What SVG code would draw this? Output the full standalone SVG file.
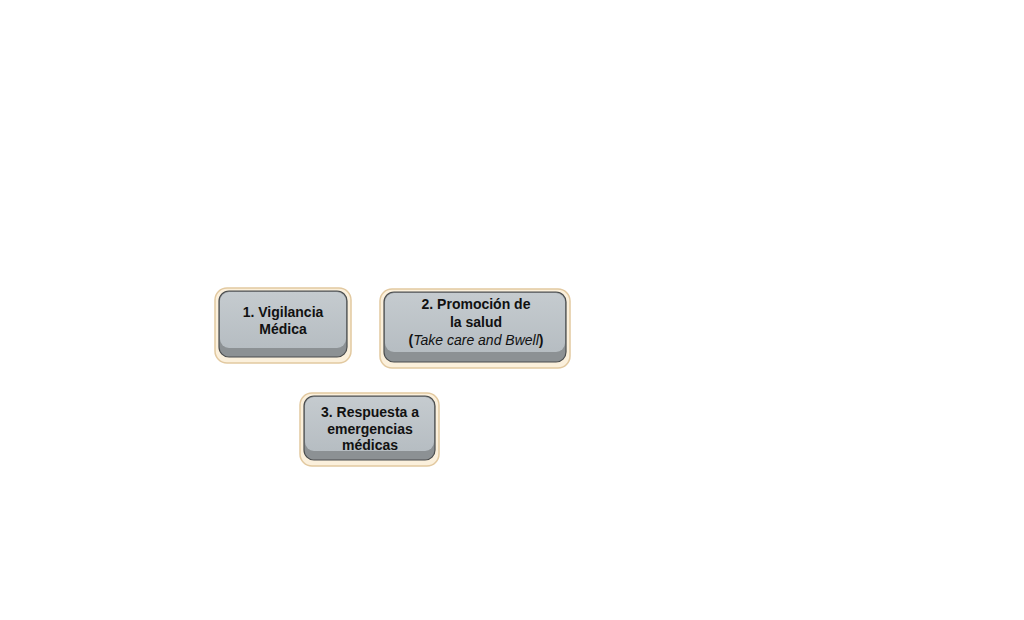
<svg xmlns="http://www.w3.org/2000/svg" width="1024" height="620" viewBox="0 0 1024 620">
<defs>
<linearGradient id="face" x1="0" y1="0" x2="0" y2="1">
<stop offset="0" stop-color="#c5cbcf"/>
<stop offset="1" stop-color="#b6bdc2"/>
</linearGradient>
<style>
.frame{fill:#fbf0dc;stroke:#e2c9a0;stroke-width:1.5}
.base{fill:#8c9194;stroke:#4a4d4f;stroke-width:1.2}
.face{fill:url(#face)}
.t{font-family:"Liberation Sans",Arial,sans-serif;font-weight:bold;font-size:14px;fill:#111;text-anchor:middle}
.i{font-style:italic;font-weight:normal}
</style>
</defs>
<rect width="1024" height="620" fill="#fff"/>
<g id="connectors"/>
<g id="node1">
<rect class="frame" x="215" y="288" width="136" height="75" rx="12"/>
<rect class="base" x="219" y="291" width="128" height="66" rx="10"/>
<rect class="face" x="220" y="292" width="126" height="56" rx="9"/>
<text class="t" x="283" y="317">1. Vigilancia</text>
<text class="t" x="283" y="334">Médica</text>
</g>
<g id="node2">
<rect class="frame" x="380" y="289" width="190" height="79" rx="12"/>
<rect class="base" x="384" y="292" width="182" height="70" rx="10"/>
<rect class="face" x="385" y="293" width="180" height="59" rx="9"/>
<text class="t" x="476" y="309">2. Promoción de</text>
<text class="t" x="476" y="327">la salud</text>
<text class="t" x="476" y="345">(<tspan class="i">Take care and Bwell</tspan>)</text>
</g>
<g id="node3">
<rect class="frame" x="300" y="393" width="139" height="73" rx="12"/>
<rect class="base" x="304" y="396" width="131" height="64" rx="10"/>
<rect class="face" x="305" y="397" width="129" height="54" rx="9"/>
<text class="t" x="370" y="417">3. Respuesta a</text>
<text class="t" x="370" y="434">emergencias</text>
<text class="t" x="370" y="450">médicas</text>
</g>
</svg>
